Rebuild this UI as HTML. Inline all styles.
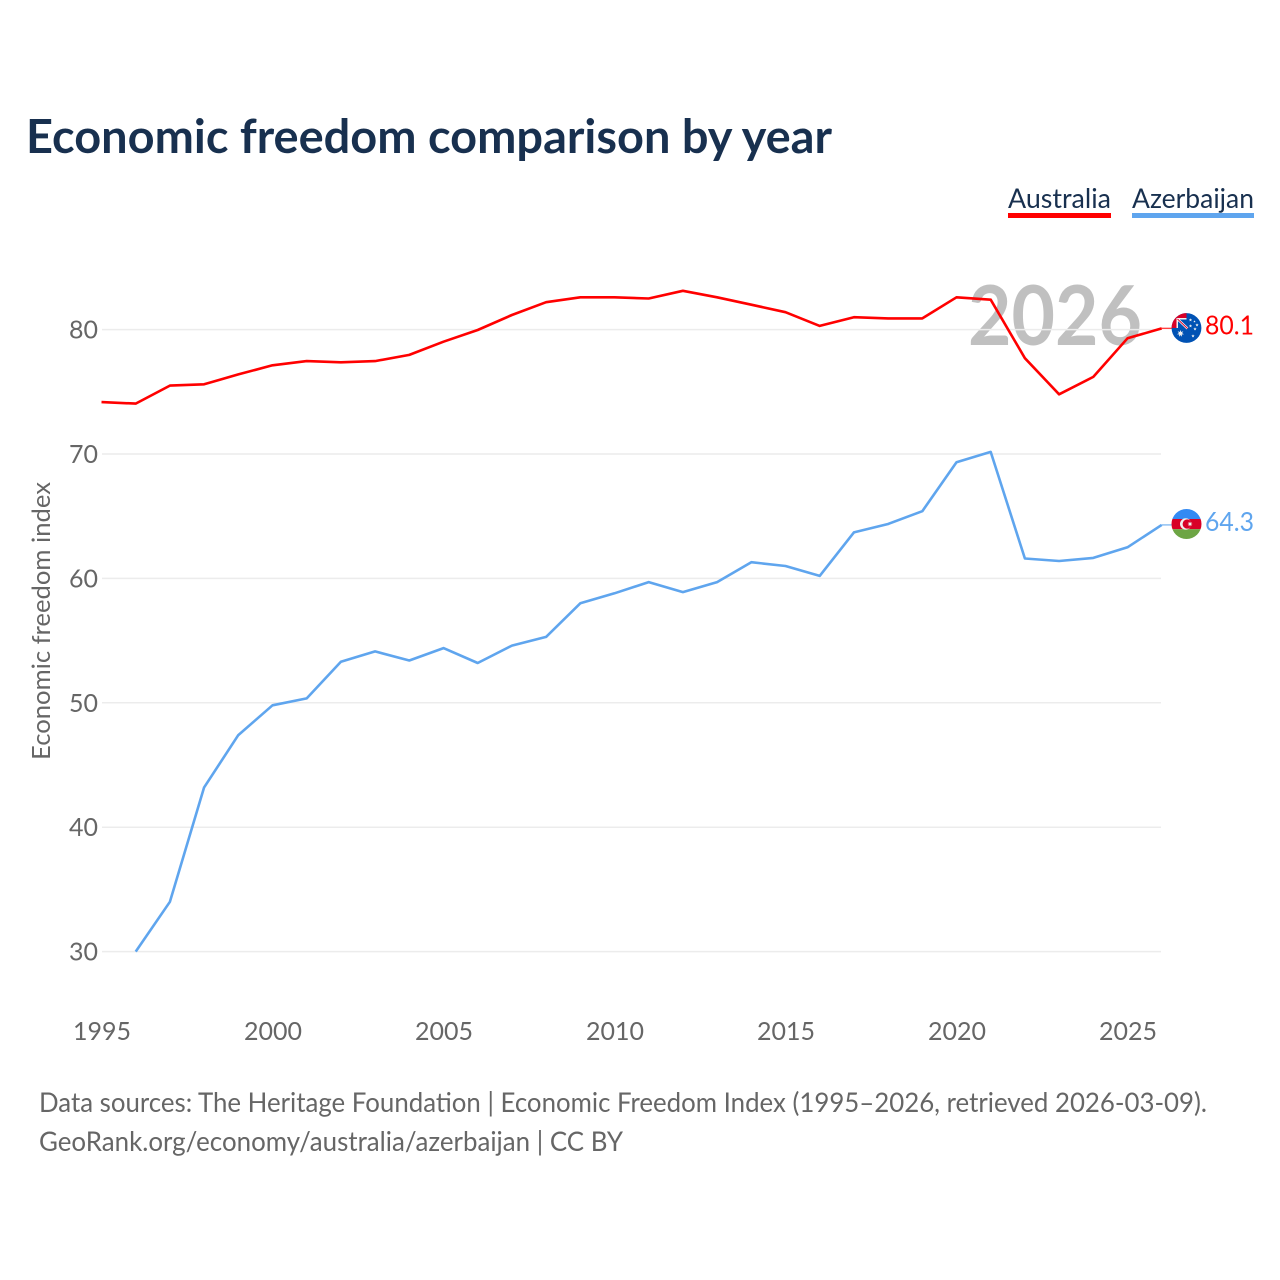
<!DOCTYPE html>
<html lang="en">
<head>
<meta charset="utf-8">
<title>Economic freedom comparison by year</title>
<style>
html,body{margin:0;padding:0;background:#fff;width:1280px;height:1280px;overflow:hidden}
svg{display:block}
text{font-family:"Lato","Carlito","Liberation Sans",sans-serif}
</style>
</head>
<body>
<svg id="chart" xmlns="http://www.w3.org/2000/svg" width="1280" height="1280" viewBox="0 0 1280 1280">
  <rect width="1280" height="1280" fill="#fff"/>
  <text x="26" y="153" font-size="47" font-weight="700" fill="#18304f" textLength="806" lengthAdjust="spacingAndGlyphs">Economic freedom comparison by year</text>
  <g>
    <g>
      <text x="1008" y="208" font-size="27" fill="#18304f" textLength="103" lengthAdjust="spacingAndGlyphs">Australia</text>
      <rect x="1008" y="213" width="103" height="5" fill="#ff0000"/>
    </g>
    <g>
      <text x="1132" y="208" font-size="27" fill="#18304f" textLength="122" lengthAdjust="spacingAndGlyphs">Azerbaijan</text>
      <rect x="1132" y="213" width="122" height="5" fill="#5fa5ee"/>
    </g>
  </g>
  <text x="1142" y="345" text-anchor="end" font-size="82" font-weight="700" fill="#999" fill-opacity="0.62" textLength="174" lengthAdjust="spacingAndGlyphs">2026</text>
  <g id="grid"></g>
  <g id="y-axis"></g>
  <g id="x-axis"></g>
  <text transform="translate(50,621) rotate(-90)" text-anchor="middle" font-size="25" fill="#666" textLength="278" lengthAdjust="spacingAndGlyphs">Economic freedom index</text>
  <g id="series"></g>
  <g id="end-markers"></g>
  <text x="39" y="1112" font-size="27" fill="#666" textLength="1168" lengthAdjust="spacingAndGlyphs">Data sources: The Heritage Foundation | Economic Freedom Index (1995–2026, retrieved 2026-03-09).</text>
  <text x="39" y="1151" font-size="27" fill="#666" textLength="584" lengthAdjust="spacingAndGlyphs">GeoRank.org/economy/australia/azerbaijan | CC BY</text>
</svg>
<script>
var years = [1995,1996,1997,1998,1999,2000,2001,2002,2003,2004,2005,2006,2007,2008,2009,2010,2011,2012,2013,2014,2015,2016,2017,2018,2019,2020,2021,2022,2023,2024,2025,2026];
var australiaValues = [74.17,74.05,75.5,75.6,76.4,77.13,77.47,77.37,77.47,77.97,79.03,79.97,81.17,82.2,82.6,82.6,82.5,83.12,82.6,82.0,81.4,80.3,81.0,80.9,80.9,82.6,82.4,77.7,74.8,76.2,79.3,80.1];
var azerbaijanValues = [null,30.0,34.0,43.2,47.4,49.8,50.35,53.3,54.13,53.4,54.4,53.2,54.6,55.3,58.0,58.8,59.7,58.9,59.7,61.3,61.0,60.2,63.7,64.37,65.4,69.33,70.17,61.6,61.4,61.65,62.5,64.3];
var yTicks = [30,40,50,60,70,80];
var xTicks = [1995,2000,2005,2010,2015,2020,2025];
var seriesNames = ["australia","azerbaijan"];
var seriesColors = ["#ff0000","#5fa5ee"];
var endLabels = ["80.1","64.3"];

var NS = "http://www.w3.org/2000/svg";
function xScale(year){ return 101.5 + (year - 1995) * 34.2; }
function yScale(value){ return 951.6 - (value - 30) * 12.44; }
function make(tag, attrs, parent){
  var el = document.createElementNS(NS, tag);
  for (var k in attrs) el.setAttribute(k, attrs[k]);
  parent.appendChild(el);
  return el;
}
var grid = document.getElementById("grid");
var yAxis = document.getElementById("y-axis");
var xAxis = document.getElementById("x-axis");
var seriesGroup = document.getElementById("series");
var endGroup = document.getElementById("end-markers");

yTicks.forEach(function(t){
  var line = make("line", {x1:102, x2:1161, y1:yScale(t), y2:yScale(t), stroke:"#ececec", "stroke-width":1.5}, grid);
  
  
  var label = make("text", {x:98, y:yScale(t) + 9, "text-anchor":"end", "font-size":25, fill:"#666"}, yAxis);
  label.textContent = t;
  
  
});
xTicks.forEach(function(t){
  var label = make("text", {x:xScale(t) + 0.5, y:1040, "text-anchor":"middle", "font-size":25, fill:"#666"}, xAxis);
  label.textContent = t;
  
  
});

[australiaValues, azerbaijanValues].forEach(function(values, i){
  var pts = [];
  values.forEach(function(v, j){
    if (v !== null) pts.push(xScale(years[j]).toFixed(1) + "," + yScale(v).toFixed(1));
  });
  var line = make("polyline", {points:pts.join(" "), fill:"none", stroke:seriesColors[i], "stroke-width":2.6, "stroke-linejoin":"round"}, seriesGroup);
  
  

  var lastValue = values[values.length - 1];
  var lastX = xScale(years[years.length - 1]);
  var lastY = yScale(lastValue);
  var conn = make("line", {x1:lastX, x2:lastX + 11, y1:lastY, y2:lastY, stroke:seriesColors[i], "stroke-width":1.4, "stroke-opacity":0.75}, endGroup);
  
  
  var lab = make("text", {x:1254, y:lastY + 6, "text-anchor":"end", "font-size":26, fill:seriesColors[i], textLength:49, lengthAdjust:"spacingAndGlyphs"}, endGroup);
  lab.textContent = endLabels[i];
  
  
});

function starPoints(cx, cy, r, n){
  var p = [];
  for (var k = 0; k < n * 2; k++){
    var rr = k % 2 ? r * 0.45 : r;
    var a = -Math.PI / 2 + k * Math.PI / n;
    p.push((cx + rr * Math.cos(a)).toFixed(2) + "," + (cy + rr * Math.sin(a)).toFixed(2));
  }
  return p.join(" ");
}
function flagAustralia(cx, cy){
  var g = make("g", {}, endGroup);
  
  
  make("circle", {cx:cx, cy:cy, r:14.9, fill:"#0052b4"}, g);
  var clip = make("clipPath", {id:"au-clip"}, g);
  make("circle", {cx:cx, cy:cy, r:14.9}, clip);
  var c = make("g", {"clip-path":"url(#au-clip)"}, g);
  make("rect", {x:cx-15, y:cy-15, width:15, height:15, fill:"#d80027"}, c);
  make("rect", {x:cx-10, y:cy-10, width:10, height:10, fill:"#f0f0f0"}, c);
  make("rect", {x:cx-8.5, y:cy-8.5, width:8.5, height:8.5, fill:"#0052b4"}, c);
  make("line", {x1:cx-9, y1:cy-9, x2:cx+1, y2:cy+0.5, stroke:"#fff", "stroke-width":2.4}, c);
  make("line", {x1:cx-9, y1:cy-9, x2:cx+1, y2:cy+0.5, stroke:"#d80027", "stroke-width":0.9}, c);
  make("polygon", {points:starPoints(cx-6, cy+5.5, 3.6, 7), fill:"#f0f0f0"}, c);
  var stars = [[4,-8,1.7],[8,-6.5,1.2],[10.5,-3,1.7],[4,-2,1.7],[8.5,1,1.7],[6.5,8,1.7]];
  stars.forEach(function(s){ make("polygon", {points:starPoints(cx+s[0], cy+s[1], s[2], 5), fill:"#f0f0f0"}, c); });
}
function flagAzerbaijan(cx, cy){
  var g = make("g", {}, endGroup);
  
  
  var clip = make("clipPath", {id:"az-clip"}, g);
  make("circle", {cx:cx, cy:cy, r:15}, clip);
  var c = make("g", {"clip-path":"url(#az-clip)"}, g);
  make("rect", {x:cx-15, y:cy-15, width:30, height:10, fill:"#338af3"}, c);
  make("rect", {x:cx-15, y:cy-5, width:30, height:10.2, fill:"#d80027"}, c);
  make("rect", {x:cx-15, y:cy+5.2, width:30, height:10, fill:"#6da544"}, c);
  make("circle", {cx:cx-0.8, cy:cy, r:5.7, fill:"#f0f0f0"}, c);
  make("circle", {cx:cx+0.7, cy:cy, r:4.6, fill:"#d80027"}, c);
  make("polygon", {points:starPoints(cx+3.5, cy, 2.6, 8), fill:"#f0f0f0"}, c);
}
flagAustralia(1186.5, 328);
flagAzerbaijan(1186.5, 524);
</script>
</body>
</html>
